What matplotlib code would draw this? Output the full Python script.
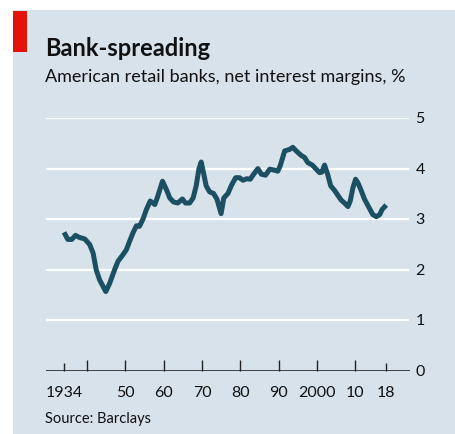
import matplotlib
matplotlib.use('Agg')
import matplotlib.pyplot as plt
from matplotlib.patches import Rectangle

# net interest margins, American retail banks, %
years = [1934.0, 1935.0, 1936.0, 1937.0, 1938.0, 1939.4, 1940.7, 1941.6, 1942.4, 1943.3,
         1944.9, 1945.9, 1947.2, 1948.1, 1949.4, 1950.3, 1951.1, 1952.0, 1952.9, 1953.7,
         1954.6, 1955.5, 1956.5, 1957.7, 1958.5, 1959.7, 1960.7, 1961.6, 1962.6, 1963.7,
         1964.9, 1965.7, 1966.8, 1967.7, 1968.5, 1969.2, 1969.8, 1970.4, 1971.1, 1972.0,
         1973.0, 1973.9, 1975.0, 1975.7, 1976.8, 1977.7, 1978.8, 1979.8, 1980.7, 1981.7,
         1982.6, 1983.5, 1984.6, 1985.5, 1986.6, 1987.7, 1988.8, 1989.8, 1990.4, 1991.6,
         1992.9, 1993.7, 1994.6, 1995.9, 1996.8, 1997.6, 1998.8, 1999.8, 2000.7, 2001.3,
         2002.0, 2002.8, 2003.6, 2004.6, 2005.5, 2006.3, 2007.2, 2008.1, 2008.7, 2009.4,
         2010.1, 2010.7, 2011.6, 2012.4, 2013.6, 2014.6, 2015.5, 2016.4, 2017.0, 2018.1]
margins = [2.74, 2.60, 2.60, 2.68, 2.64, 2.61, 2.50, 2.33, 2.00, 1.80,
           1.57, 1.73, 2.00, 2.17, 2.30, 2.40, 2.56, 2.73, 2.87, 2.86,
           3.00, 3.19, 3.36, 3.29, 3.46, 3.75, 3.59, 3.42, 3.34, 3.32,
           3.40, 3.32, 3.32, 3.42, 3.66, 3.99, 4.13, 3.92, 3.66, 3.54,
           3.51, 3.40, 3.11, 3.42, 3.51, 3.67, 3.82, 3.82, 3.77, 3.80,
           3.79, 3.89, 4.00, 3.89, 3.87, 3.99, 3.97, 3.95, 4.05, 4.35,
           4.38, 4.42, 4.35, 4.26, 4.22, 4.12, 4.07, 3.99, 3.92, 3.93,
           4.07, 3.89, 3.66, 3.57, 3.47, 3.38, 3.32, 3.25, 3.36, 3.62,
           3.79, 3.72, 3.56, 3.40, 3.23, 3.09, 3.05, 3.09, 3.19, 3.28]

xticks = [1940, 1950, 1960, 1970, 1980, 1990, 2000, 2010]
xlabels = ['', '50', '60', '70', '80', '90', '2000', '10']
end_ticks = [1934, 2018]
end_labels = ['1934', '18']
yticks = [0, 1, 2, 3, 4, 5]

bg = '#d7e2ea'
line_col = '#1b4f62'
plt.rcParams['font.family'] = ['Lato', 'DejaVu Sans']

fig = plt.figure(figsize=(4.56, 4.35), dpi=100, facecolor='white')
W, H = 456, 435

# panel background and red tag
fig.patches.append(Rectangle((13 / W, 0), 1 - 13 / W, 1 - 11 / H,
                             transform=fig.transFigure, facecolor=bg,
                             edgecolor='none', zorder=-2))
fig.patches.append(Rectangle((13 / W, 1 - 53 / H), 14 / W, 41 / H,
                             transform=fig.transFigure, facecolor='#e3120b',
                             edgecolor='none', zorder=-1))

fig.text(45 / W, 1 - 56 / H, 'Bank-spreading', fontsize=17, fontweight='bold',
         color='#111111', va='baseline')
fig.text(45 / W, 1 - 82 / H, 'American retail banks, net interest margins, %',
         fontsize=13, color='#111111', va='baseline')
fig.text(45 / W, 1 - 423 / H, 'Source: Barclays', fontsize=10.5,
         color='#111111', va='baseline')

ax = fig.add_axes([46 / W, 1 - 372 / H, 364 / W, 253 / H])
ax.set_zorder(2)
ax.set_facecolor('none')
for s in ax.spines.values():
    s.set_visible(False)

for v in yticks[1:]:
    ax.axhline(v, color='white', lw=1.6, zorder=1, xmax=0.995)
ax.axhline(0, color='#222222', lw=1.2, zorder=3)

ax.plot(years, margins, color=line_col, lw=3.6, solid_capstyle='butt',
        solid_joinstyle='round', zorder=4)

ax.set_xlim(1929.3, 2024.3)
ax.set_ylim(0, 5)

ax.set_xticks(xticks)
ax.set_xticklabels(xlabels)
ax.set_xticks(end_ticks, minor=True)
ax.set_xticklabels(end_labels, minor=True)
ax.tick_params(axis='x', which='major', direction='in', length=8, width=1,
               color='#222222', labelsize=11.5, pad=10, labelcolor='#111111')
ax.tick_params(axis='x', which='minor', direction='in', length=5.5, width=1,
               color='#222222', labelsize=11.5, pad=10, labelcolor='#111111')
ax.yaxis.tick_right()
ax.set_yticks(yticks)
ax.tick_params(axis='y', length=0, labelsize=11.5, pad=4, labelcolor='#111111')
for lbl in ax.get_yticklabels():
    lbl.set_verticalalignment('center')

fig.savefig('out.png', dpi=100, facecolor='white')
